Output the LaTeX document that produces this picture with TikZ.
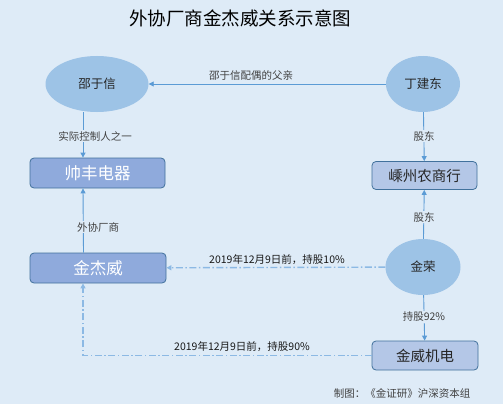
\documentclass[tikz,border=0pt]{standalone}
\usepackage{fontspec}
\setmainfont{Noto Sans CJK SC}
\usepackage{xcolor}
\usepackage{tikz}
\usetikzlibrary{
  shapes.geometric,
  arrows.meta
}
\definecolor{bgblue}{RGB}{222,235,247}
\definecolor{ellblue}{RGB}{157,195,230}
\definecolor{boxdark}{RGB}{143,170,220}
\definecolor{boxlight}{RGB}{180,199,231}
\definecolor{edgeblue}{RGB}{65,113,156}
\definecolor{lineblue}{RGB}{91,155,213}
\definecolor{dashblue}{RGB}{140,185,228}
\definecolor{textgray}{RGB}{64,64,64}

\begin{document}
\begin{tikzpicture}[x=1pt, y=-1pt,
  p/.style={ellipse, fill=ellblue, inner sep=0pt, minimum height=56pt, text=black!85, font=\fontsize{12.5}{14}\selectfont},
  co/.style={rectangle, rounded corners=4pt, draw=edgeblue, line width=0.8pt, inner sep=0pt, minimum width=135pt, minimum height=30pt},
  cod/.style={co, fill=boxdark, text=white, font=\fontsize{16.5}{18}\selectfont},
  col/.style={co, fill=boxlight, text=black!85, minimum width=105pt, minimum height=28pt, font=\fontsize{14.5}{16}\selectfont},
  lbl/.style={fill=bgblue, inner sep=1pt, text=textgray, font=\fontsize{10.5}{12}\selectfont},
  e/.style={-{Triangle[length=5pt, width=5pt]}, lineblue, line width=0.9pt},
  ed/.style={-{Triangle[length=5pt, width=5pt]}, dashblue, line width=1.4pt, dash pattern=on 7pt off 2.5pt on 1.5pt off 2.5pt}
]
  \useasboundingbox[fill=bgblue] (0,0) rectangle (503,404);
  \node (title) at (240,18) {\fontsize{18.5}{20}\selectfont 外协厂商金杰威关系示意图};

  \node[p, minimum width=103pt] (shy) at (97,84) {邵于信};
  \node[p, minimum width=74pt] (djd) at (423,84) {丁建东};
  \node[p, minimum width=75pt] (jr) at (423,267) {金荣};
  \node[cod] (sf) at (97.5,173) {帅丰电器};
  \node[cod, minimum width=136pt] (jjw) at (98,268) {金杰威};
  \node[col] (szn) at (424.5,175.5) {嵊州农商行};
  \node[col, minimum width=106pt, minimum height=29pt] (jwj) at (425,355.5) {金威机电};

  \draw[e] (djd) -- (shy);
  \draw[e] ([xshift=-14pt]shy.south) -- ([xshift=-14.5pt]sf.north);
  \draw[e] ([xshift=-14.5pt]jjw.north) -- ([xshift=-14.5pt]sf.south);
  \draw[e] (djd) -- (szn);
  \draw[e] (jr) -- (szn);
  \draw[e] (jr) -- (jwj);
  \draw[ed] (jr) -- (jjw);
  \draw[ed] (jwj.west) -| ([xshift=-15pt]jjw.south);

  \node[text=textgray, font=\fontsize{10.5}{12}\selectfont] (l1) at (251,76) {邵于信配偶的父亲};
  \node[lbl] (l2) at (95,136) {实际控制人之一};
  \node[lbl] (l3) at (424,136) {股东};
  \node[lbl] (l4) at (98,227) {外协厂商};
  \node[lbl] (l5) at (424,217) {股东};
  \node[lbl] (l6) at (424,317) {持股92\%};
  \node[text=black!90, font=\fontsize{10.5}{12}\selectfont] (l7) at (277,260) {2019年12月9日前，持股10\%};
  \node[text=black!90, font=\fontsize{10.5}{12}\selectfont] (l8) at (242,347) {2019年12月9日前，持股90\%};
  \node[text=textgray, font=\fontsize{10.5}{12}\selectfont] (foot) at (402,393) {制图：《金证研》沪深资本组};
\end{tikzpicture}
\end{document}
